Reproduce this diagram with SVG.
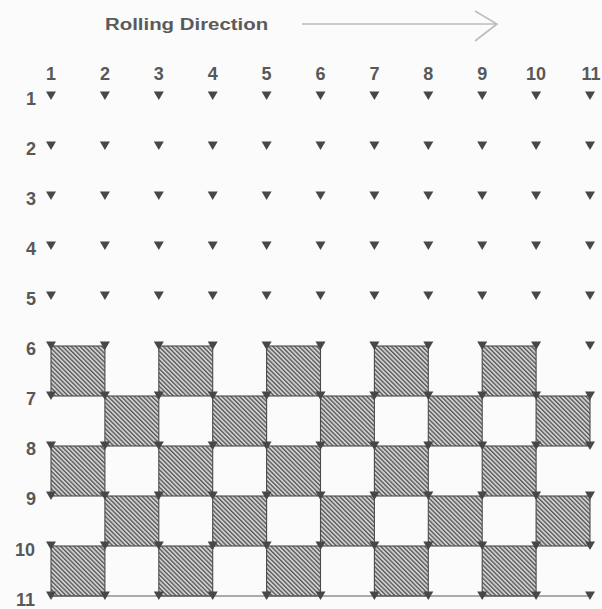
<svg xmlns="http://www.w3.org/2000/svg" width="602" height="609" viewBox="0 0 602 609">
<defs>
<style>
.lbl{font-family:"Liberation Sans",Arial,sans-serif;font-weight:bold;font-size:18px;fill:#585858}
.ttl{font-family:"Liberation Sans",Arial,sans-serif;font-weight:bold;font-size:17px;fill:#5a5a5a}
.cell{fill:url(#hatch);stroke:#4a4a4a;stroke-width:1.1}
.tri{fill:#474747}
.conn{stroke:#5a5a5a;stroke-width:1.1;fill:none}
.arrow{stroke:#bdbdbd;stroke-width:1.6;fill:none}
</style>
<pattern id="hatch" patternUnits="userSpaceOnUse" width="3.1" height="10" patternTransform="rotate(-45)">
<rect width="3.1" height="10" fill="#d0d0d0"/>
<rect width="1.3" height="10" fill="#555555"/>
</pattern>
<polygon id="t" class="tri" points="-5,-4.5 5,-4.5 0,4"/>
</defs>
<rect width="602" height="609" fill="#fbfbfb"/>
<g id="title">
<text class="ttl" transform="translate(105,30) scale(1.2,1)" x="0" y="0">Rolling Direction</text>
<path class="arrow" d="M302 24 H497 M475 11 L497 24 L475 41"/>
</g>
<g id="colLabels" class="lbl" text-anchor="middle">
<text x="51" y="80">1</text><text x="104.9" y="80">2</text><text x="158.8" y="80">3</text><text x="212.7" y="80">4</text><text x="266.6" y="80">5</text><text x="320.5" y="80">6</text><text x="374.4" y="80">7</text><text x="428.3" y="80">8</text><text x="482.2" y="80">9</text><text x="536.1" y="80">10</text><text x="591" y="80">11</text>
</g>
<g id="rowLabels" class="lbl" text-anchor="end">
<text x="36" y="105">1</text><text x="36" y="155">2</text><text x="36" y="205">3</text><text x="36" y="255">4</text><text x="36" y="305">5</text><text x="36" y="355">6</text><text x="36" y="405">7</text><text x="36" y="455">8</text><text x="36" y="505">9</text><text x="35" y="556">10</text><text x="35" y="606">11</text>
</g>
<g id="cells">
<g id="cell-6-1"><rect class="cell" x="51" y="346" width="53.9" height="50"/></g>
<g id="cell-6-3"><rect class="cell" x="158.8" y="346" width="53.9" height="50"/></g>
<g id="cell-6-5"><rect class="cell" x="266.6" y="346" width="53.9" height="50"/></g>
<g id="cell-6-7"><rect class="cell" x="374.4" y="346" width="53.9" height="50"/></g>
<g id="cell-6-9"><rect class="cell" x="482.2" y="346" width="53.9" height="50"/></g>
<g id="cell-7-2"><rect class="cell" x="104.9" y="396" width="53.9" height="50"/></g>
<g id="cell-7-4"><rect class="cell" x="212.7" y="396" width="53.9" height="50"/></g>
<g id="cell-7-6"><rect class="cell" x="320.5" y="396" width="53.9" height="50"/></g>
<g id="cell-7-8"><rect class="cell" x="428.3" y="396" width="53.9" height="50"/></g>
<g id="cell-7-10"><rect class="cell" x="536.1" y="396" width="53.9" height="50"/></g>
<g id="cell-8-1"><rect class="cell" x="51" y="446" width="53.9" height="50"/></g>
<g id="cell-8-3"><rect class="cell" x="158.8" y="446" width="53.9" height="50"/></g>
<g id="cell-8-5"><rect class="cell" x="266.6" y="446" width="53.9" height="50"/></g>
<g id="cell-8-7"><rect class="cell" x="374.4" y="446" width="53.9" height="50"/></g>
<g id="cell-8-9"><rect class="cell" x="482.2" y="446" width="53.9" height="50"/></g>
<g id="cell-9-2"><rect class="cell" x="104.9" y="496" width="53.9" height="50"/></g>
<g id="cell-9-4"><rect class="cell" x="212.7" y="496" width="53.9" height="50"/></g>
<g id="cell-9-6"><rect class="cell" x="320.5" y="496" width="53.9" height="50"/></g>
<g id="cell-9-8"><rect class="cell" x="428.3" y="496" width="53.9" height="50"/></g>
<g id="cell-9-10"><rect class="cell" x="536.1" y="496" width="53.9" height="50"/></g>
<g id="cell-10-1"><rect class="cell" x="51" y="546" width="53.9" height="50"/></g>
<g id="cell-10-3"><rect class="cell" x="158.8" y="546" width="53.9" height="50"/></g>
<g id="cell-10-5"><rect class="cell" x="266.6" y="546" width="53.9" height="50"/></g>
<g id="cell-10-7"><rect class="cell" x="374.4" y="546" width="53.9" height="50"/></g>
<g id="cell-10-9"><rect class="cell" x="482.2" y="546" width="53.9" height="50"/></g>
</g>
<g id="connectors">
<path class="conn" d="M51 596 H590"/>
</g>
<g id="points">
<g id="row1"><use href="#t" x="51" y="96"/><use href="#t" x="104.9" y="96"/><use href="#t" x="158.8" y="96"/><use href="#t" x="212.7" y="96"/><use href="#t" x="266.6" y="96"/><use href="#t" x="320.5" y="96"/><use href="#t" x="374.4" y="96"/><use href="#t" x="428.3" y="96"/><use href="#t" x="482.2" y="96"/><use href="#t" x="536.1" y="96"/><use href="#t" x="590" y="96"/></g>
<g id="row2"><use href="#t" x="51" y="146"/><use href="#t" x="104.9" y="146"/><use href="#t" x="158.8" y="146"/><use href="#t" x="212.7" y="146"/><use href="#t" x="266.6" y="146"/><use href="#t" x="320.5" y="146"/><use href="#t" x="374.4" y="146"/><use href="#t" x="428.3" y="146"/><use href="#t" x="482.2" y="146"/><use href="#t" x="536.1" y="146"/><use href="#t" x="590" y="146"/></g>
<g id="row3"><use href="#t" x="51" y="196"/><use href="#t" x="104.9" y="196"/><use href="#t" x="158.8" y="196"/><use href="#t" x="212.7" y="196"/><use href="#t" x="266.6" y="196"/><use href="#t" x="320.5" y="196"/><use href="#t" x="374.4" y="196"/><use href="#t" x="428.3" y="196"/><use href="#t" x="482.2" y="196"/><use href="#t" x="536.1" y="196"/><use href="#t" x="590" y="196"/></g>
<g id="row4"><use href="#t" x="51" y="246"/><use href="#t" x="104.9" y="246"/><use href="#t" x="158.8" y="246"/><use href="#t" x="212.7" y="246"/><use href="#t" x="266.6" y="246"/><use href="#t" x="320.5" y="246"/><use href="#t" x="374.4" y="246"/><use href="#t" x="428.3" y="246"/><use href="#t" x="482.2" y="246"/><use href="#t" x="536.1" y="246"/><use href="#t" x="590" y="246"/></g>
<g id="row5"><use href="#t" x="51" y="296"/><use href="#t" x="104.9" y="296"/><use href="#t" x="158.8" y="296"/><use href="#t" x="212.7" y="296"/><use href="#t" x="266.6" y="296"/><use href="#t" x="320.5" y="296"/><use href="#t" x="374.4" y="296"/><use href="#t" x="428.3" y="296"/><use href="#t" x="482.2" y="296"/><use href="#t" x="536.1" y="296"/><use href="#t" x="590" y="296"/></g>
<g id="row6"><use href="#t" x="51" y="346"/><use href="#t" x="104.9" y="346"/><use href="#t" x="158.8" y="346"/><use href="#t" x="212.7" y="346"/><use href="#t" x="266.6" y="346"/><use href="#t" x="320.5" y="346"/><use href="#t" x="374.4" y="346"/><use href="#t" x="428.3" y="346"/><use href="#t" x="482.2" y="346"/><use href="#t" x="536.1" y="346"/><use href="#t" x="590" y="346"/></g>
<g id="row7"><use href="#t" x="51" y="396"/><use href="#t" x="104.9" y="396"/><use href="#t" x="158.8" y="396"/><use href="#t" x="212.7" y="396"/><use href="#t" x="266.6" y="396"/><use href="#t" x="320.5" y="396"/><use href="#t" x="374.4" y="396"/><use href="#t" x="428.3" y="396"/><use href="#t" x="482.2" y="396"/><use href="#t" x="536.1" y="396"/><use href="#t" x="590" y="396"/></g>
<g id="row8"><use href="#t" x="51" y="446"/><use href="#t" x="104.9" y="446"/><use href="#t" x="158.8" y="446"/><use href="#t" x="212.7" y="446"/><use href="#t" x="266.6" y="446"/><use href="#t" x="320.5" y="446"/><use href="#t" x="374.4" y="446"/><use href="#t" x="428.3" y="446"/><use href="#t" x="482.2" y="446"/><use href="#t" x="536.1" y="446"/><use href="#t" x="590" y="446"/></g>
<g id="row9"><use href="#t" x="51" y="496"/><use href="#t" x="104.9" y="496"/><use href="#t" x="158.8" y="496"/><use href="#t" x="212.7" y="496"/><use href="#t" x="266.6" y="496"/><use href="#t" x="320.5" y="496"/><use href="#t" x="374.4" y="496"/><use href="#t" x="428.3" y="496"/><use href="#t" x="482.2" y="496"/><use href="#t" x="536.1" y="496"/><use href="#t" x="590" y="496"/></g>
<g id="row10"><use href="#t" x="51" y="546"/><use href="#t" x="104.9" y="546"/><use href="#t" x="158.8" y="546"/><use href="#t" x="212.7" y="546"/><use href="#t" x="266.6" y="546"/><use href="#t" x="320.5" y="546"/><use href="#t" x="374.4" y="546"/><use href="#t" x="428.3" y="546"/><use href="#t" x="482.2" y="546"/><use href="#t" x="536.1" y="546"/><use href="#t" x="590" y="546"/></g>
<g id="row11"><use href="#t" x="51" y="596"/><use href="#t" x="104.9" y="596"/><use href="#t" x="158.8" y="596"/><use href="#t" x="212.7" y="596"/><use href="#t" x="266.6" y="596"/><use href="#t" x="320.5" y="596"/><use href="#t" x="374.4" y="596"/><use href="#t" x="428.3" y="596"/><use href="#t" x="482.2" y="596"/><use href="#t" x="536.1" y="596"/><use href="#t" x="590" y="596"/></g>
</g>
</svg>
